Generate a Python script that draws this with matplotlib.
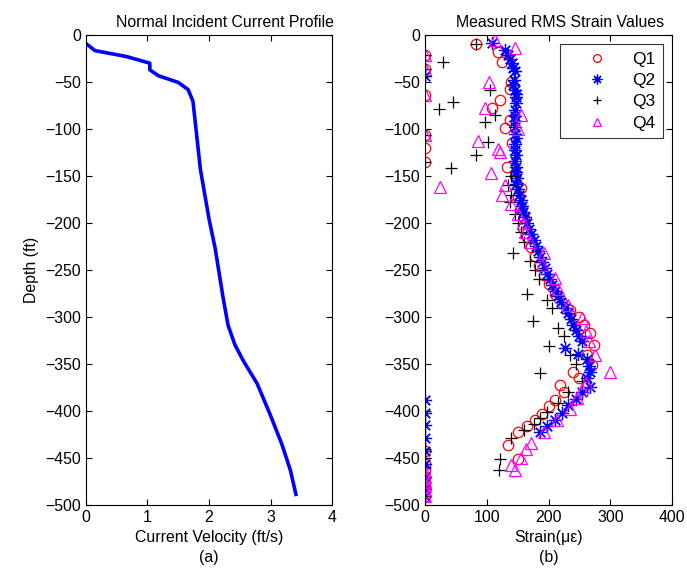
import matplotlib
matplotlib.use("Agg")
import matplotlib.pyplot as plt

plt.rcParams['font.family'] = ['Liberation Sans', 'DejaVu Sans']

# Panel (a): current profile
velocity = [0.0, 0.15, 0.66, 1.04, 1.04, 1.18, 1.50, 1.66, 1.74, 1.86, 2.00, 2.10, 2.23,
            2.31, 2.42, 2.56, 2.78, 2.99, 3.18, 3.32, 3.41]
vel_depth = [-8.8, -16.6, -22.9, -30, -37, -43.4, -50.4, -58, -70.5, -142.7, -195.6, -227, -280,
             -309, -329.5, -347, -370.7, -403.5, -435, -463, -488.7]

# Panel (b): RMS strain values
q1_depth = [-10, -21, -18, -29, -36, -50, -57, -64, -69, -78, -90, -99, -106, -115, -120, -135,
            -140, -150, -163, -172, -185, -195, -205, -215, -225, -235, -245, -255, -265, -275,
            -285, -293, -300, -308, -317, -330, -340, -351, -359, -365, -372, -380, -388, -395,
            -403, -410, -416, -422, -436, -451, -443, -456, -463, -470, -477, -483, -490]
q1_strain = [82, 0, 118, 124, 0, 140, 137, 0, 121, 109, 137, 129, 0, 141, 0, 0,
             132, 146, 156, 150, 155, 160, 158, 165, 172, 178, 185, 192, 200, 210,
             222, 235, 250, 258, 267, 273, 262, 270, 240, 250, 219, 225, 210, 200,
             190, 178, 165, 151, 135, 151, 0, 0, 0, 0, 0, 0, 0]

q2_depth = [-9, -16, -21, -25, -30, -35, -38, -44, -48, -53, -58, -63, -66, -72, -80, -86, -92,
            -98, -105, -110, -116, -122, -128, -134, -140, -146, -152, -158, -164, -170, -176,
            -182, -188, -194, -200, -206, -212, -218, -224, -230, -236, -242, -248, -254, -260,
            -266, -272, -278, -284, -290, -296, -302, -308, -314, -320, -326, -333, -339, -345,
            -352, -358, -365, -374, -380, -387, -394, -402, -410, -416, -422,
            -388, -402, -415, -429, -443, -456, -470, -483, -490]
q2_strain = [108, 129, 135, 138, 141, 143, 145, 0, 144, 143, 146, 148, 148, 147, 145, 146, 145,
             146, 145, 147, 145, 146, 147, 146, 148, 147, 149, 148, 150, 152, 155,
             157, 159, 162, 165, 168, 172, 176, 179, 183, 187, 190, 194, 198, 202,
             206, 211, 215, 220, 226, 232, 237, 240, 245, 250, 255, 227, 248, 262,
             265, 268, 262, 267, 255, 245, 232, 222, 211, 198, 186,
             0, 0, 0, 0, 0, 0, 0, 0, 0]

q3_depth = [-10, -21, -29, -36, -44, -58, -71, -79, -85, -93, -106, -114, -128, -135, -142,
            -150, -160, -170, -178, -190, -200, -210, -220, -232, -240, -250, -260, -275, -282,
            -290, -304, -312, -320, -331, -340, -350, -360, -368, -380, -392, -401, -407, -414,
            -420, -429, -451, -463, -440, -450, -460, -470, -480, -490]
q3_strain = [82, 0, 29, 0, 0, 106, 45, 22, 113, 97, 0, 102, 82, 0, 42,
             140, 135, 140, 138, 145, 150, 155, 160, 143, 170, 178, 185, 165, 198,
             205, 175, 215, 225, 200, 235, 245, 186, 255, 232, 215, 197, 186, 176,
             160, 140, 121, 120, 0, 0, 0, 0, 0, 0]

q4_depth = [-5, -14, -21, -36, -50, -64, -78, -85, -100, -106, -113, -121, -124, -147, -160, -162,
            -170, -180, -190, -200, -210, -220, -232, -245, -258, -270, -287, -301, -315, -325,
            -340, -358, -370, -377, -386, -398, -410, -422, -434, -440, -450, -457, -463,
            -465, -470, -475, -480, -485, -490]
q4_strain = [113, 145, 0, 0, 103, 0, 97, 156, 150, 0, 86, 118, 121, 107, 129, 25,
             124, 140, 150, 158, 162, 170, 192, 190, 211, 215, 232, 254, 260, 265,
             275, 300, 260, 255, 246, 235, 213, 192, 172, 164, 156, 140, 145,
             0, 0, 0, 0, 0, 0]

W, H = 687, 577
fig = plt.figure(figsize=(W / 100, H / 100), dpi=100)
axa = fig.add_axes([85.7 / W, 1 - 505 / H, 246.6 / W, 470 / H])
axb = fig.add_axes([425 / W, 1 - 505 / H, 247 / W, 470 / H])

fs = 11.4
axa.plot(velocity, vel_depth, color='#0000ff', lw=2.6)
axa.set_xlim(0, 4)
axa.set_ylim(-500, 0)
axa.set_xticks([0, 1, 2, 3, 4])
axa.set_yticks(range(-500, 1, 50))
axa.set_title('Normal Incident Current Profile', fontsize=fs, x=0.565)
axa.set_xlabel('Current Velocity (ft/s)\n(a)', fontsize=fs, linespacing=1.4)
axa.set_ylabel('Depth (ft)', fontsize=fs)

ms = 7.5
asterisk = (8, 2, 0)
axb.plot(q1_strain, q1_depth, 'o', mfc='none', mec='#ff0000', ms=ms, mew=0.9, label='Q1')
axb.plot(q2_strain, q2_depth, marker=asterisk, ls='none', color='#0000ff', ms=9.5, mew=0.9,
         label='Q2')
axb.plot(q3_strain, q3_depth, '+', color='#000000', ms=ms + 1, mew=0.9, label='Q3')
axb.plot(q4_strain, q4_depth, '^', mfc='none', mec='#ff00ff', ms=ms + 1, mew=0.9, label='Q4')
axb.set_xlim(0, 400)
axb.set_ylim(-500, 0)
axb.set_xticks([0, 100, 200, 300, 400])
axb.set_yticks(range(-500, 1, 50))
axb.set_title('Measured RMS Strain Values', fontsize=fs, x=0.547)
axb.set_xlabel('Strain(\u03bc\u03b5)\n(b)', fontsize=fs, linespacing=1.4)
leg = axb.legend(loc='upper right', fontsize=12.5, frameon=True, fancybox=False,
                 edgecolor='black', borderpad=0.45, labelspacing=0.35, handletextpad=0.3,
                 handlelength=3.4, markerscale=0.75, borderaxespad=0,
                 bbox_to_anchor=(0.9636, 0.981))
leg.get_frame().set_linewidth(0.8)

for ax in (axa, axb):
    ax.tick_params(direction='in', top=True, right=True, labelsize=fs, length=4)
    for s in ax.spines.values():
        s.set_linewidth(0.8)

fig.savefig('out.png', dpi=100)
